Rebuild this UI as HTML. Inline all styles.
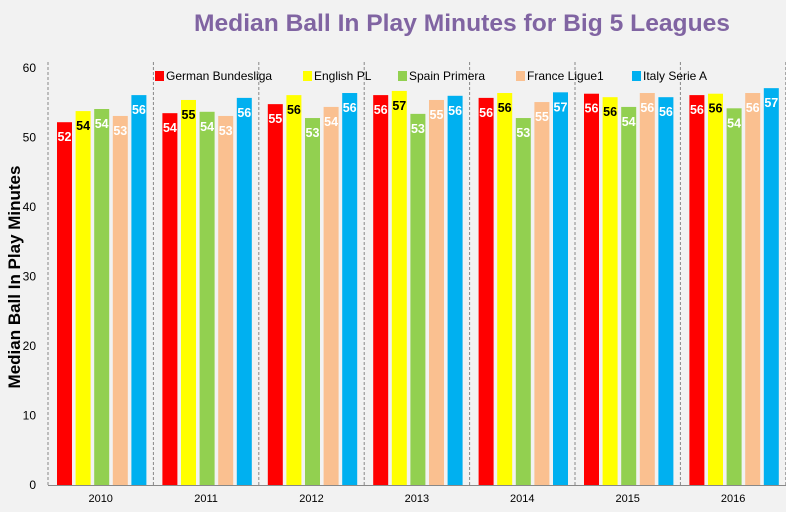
<!DOCTYPE html>
<html><head><meta charset="utf-8"><style>
body{margin:0;background:#f2f2f2;}
svg{display:block;font-family:"Liberation Sans",sans-serif;}
</style></head><body>
<svg width="786" height="512">
<rect width="786" height="512" fill="#f2f2f2"/>
<text x="462" y="31" text-anchor="middle" font-size="24" font-weight="bold" fill="#8064a2" textLength="536" lengthAdjust="spacingAndGlyphs">Median Ball In Play Minutes for Big 5 Leagues</text>
<text transform="translate(20,277) rotate(-90)" text-anchor="middle" font-size="17" font-weight="bold" fill="#000">Median Ball In Play Minutes</text>
<g id="axes"></g><g id="bars"></g><g id="legend"></g>
</svg>
<script>
const years=["2010","2011","2012","2013","2014","2015","2016"];
const series=["German Bundesliga","English PL","Spain Primera","France Ligue1","Italy Serie A"];
const colors=["#ff0000","#ffff00","#92d050","#fac090","#00b0f0"];
const labelColors=["#fff","#000","#fff","#fff","#fff"];
const german=[52.2,53.5,54.8,56.1,55.7,56.3,56.1];
const english=[53.8,55.4,56.1,56.7,56.4,55.8,56.3];
const spain=[54.1,53.7,52.8,53.4,52.8,54.4,54.2];
const france=[53.1,53.1,54.4,55.4,55.1,56.4,56.4];
const italy=[56.1,55.7,56.4,56.0,56.5,55.8,57.1];
const yTicks=[0,10,20,30,40,50,60];
const data=[german,english,spain,france,italy];
const NS="http://www.w3.org/2000/svg";
const x0=48,groupW=105.4,y0=485,yTop=68,yMax=60;
const y=v=>y0-(v/yMax)*(y0-yTop);
const bx=(g,s)=>x0+g*groupW+9+s*18.6;
function mk(t,a,p,txt){const e=document.createElementNS(NS,t);for(const k in a)e.setAttribute(k,a[k]);if(txt!==undefined)e.textContent=txt;p.appendChild(e);return e;}
const axes=document.getElementById('axes'),bars=document.getElementById('bars'),leg=document.getElementById('legend');
yTicks.forEach(t=>{const e=mk('text',{x:36,y:y(t)+4,'text-anchor':'end','font-size':12,fill:'#000'},axes,t);

});
for(let g=0;g<=years.length;g++){const e=mk('line',{x1:x0+g*groupW,x2:x0+g*groupW,y1:y0,y2:62,stroke:'#888','stroke-dasharray':'3,2','stroke-width':1},axes);

}
const ax=mk('line',{x1:x0,x2:786,y1:y0+0.5,y2:y0+0.5,stroke:'#888'},axes);


years.forEach((yr,g)=>{const e=mk('text',{x:x0+g*groupW+groupW/2,y:502,'text-anchor':'middle','font-size':11,fill:'#000'},axes,yr);

});
data.forEach((arr,s)=>{arr.forEach((v,g)=>{
const r=mk('rect',{x:bx(g,s),y:y(v),width:15,height:y0-y(v),fill:colors[s]},bars);


const t=mk('text',{x:bx(g,s)+7.5,y:y(v)+19,'text-anchor':'middle','font-size':12.5,'font-weight':'bold',fill:labelColors[s]},bars,Math.round(v));

});});
const lx=[155,303,398,516,632];
series.forEach((n,s)=>{const r=mk('rect',{x:lx[s],y:71,width:9,height:10,fill:colors[s]},leg);


const t=mk('text',{x:lx[s]+11,y:80,'font-size':12,fill:'#000'},leg,n);

});
</script>
</body></html>
